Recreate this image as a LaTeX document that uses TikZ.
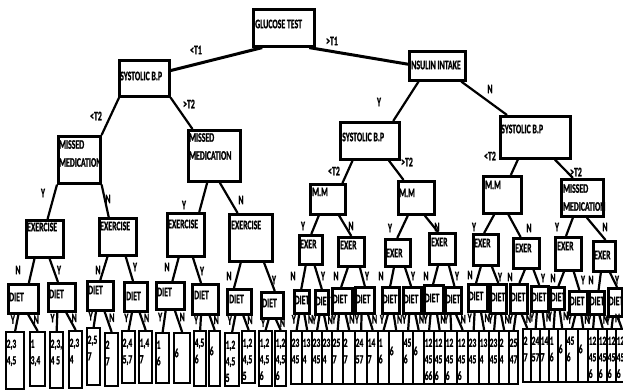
\documentclass[tikz,border=0pt]{standalone}
\usepackage{fontspec}
\setmainfont{Carlito}[FakeStretch=0.6, BoldFeatures={FakeBold=1}]
\usetikzlibrary{calc}
\tikzset{
  box/.style={draw, line width=2.6pt, rectangle, inner sep=0pt, anchor=north west, fill=white},
  leafbox/.style={draw, line width=2.3pt, rectangle, inner sep=0pt, anchor=north west},
  txt/.style={inner sep=0pt, font=\fontsize{13}{16}\selectfont\bfseries, anchor=west},
  mtxt/.style={inner sep=0pt, font=\fontsize{13}{18}\selectfont\bfseries, anchor=north west, align=left},
  ltxt/.style={inner sep=0pt, font=\fontsize{12.5}{16.5}\selectfont\bfseries, anchor=north west, align=left},
  lab/.style={inner sep=0pt, font=\fontsize{13}{15}\selectfont\bfseries},
  edge/.style={line width=2.2pt},
  topedge/.style={line width=3pt},
}
% box with one-line text: id, x1,y1,x2,y2, tx,ty, text
\newcommand\bx[8]{\node[box, minimum width={(#4-#2)*1pt}, minimum height={(#5-#3)*1pt}] (#1) at (#2,#3) {};
  \node[txt] (#1t) at (#6,#7) {#8};}
% box with two-line text (top-left of text given)
\newcommand\bxx[8]{\node[box, minimum width={(#4-#2)*1pt}, minimum height={(#5-#3)*1pt}] (#1) at (#2,#3) {};
  \node[mtxt] (#1t) at (#6,#7) {#8};}
% leaf: id, x1,y1,x2,y2, text
\newcommand\lv[6]{\node[leafbox, minimum width={(#4-#2)*1pt}, minimum height={(#5-#3)*1pt}] (#1) at (#2,#3) {};
  \node[ltxt] (#1t) at ({#2+1.5},{#3+8.5}) {#6};}
% edge between nodes: parent, fraction on bottom, child, fraction on top
\newcommand\ed[4]{\draw[edge] ($(#1.south west)!#2!(#1.south east)$) -- ($(#3.north west)!#4!(#3.north east)$);}
% diet to two leaves with Y / N
\newcommand\lfe[3]{%
  \draw[edge] ($(#1.south west)!0.35!(#1.south east)$) -- (#2.north) node[lab, pos=0.3, left=1.5pt] (#1y) {Y};
  \draw[edge] ($(#1.south west)!0.65!(#1.south east)$) -- (#3.north) node[lab, pos=0.3, right=1.5pt] (#1n) {N};}
\newcommand\lfeb[3]{%
  \draw[edge] ($(#1.south west)!0.35!(#1.south east)$) -- (#2.north) node[lab, pos=0.3, left=1.5pt] (#1y) {Y};
  \draw[edge] ($(#1.south west)!0.65!(#1.south east)$) -- (#3.north);}
\newcommand\lb[4]{\node[lab] (#1) at (#2,#3) {#4};}
\begin{document}
\begin{tikzpicture}[x=1pt, y=-1pt]
\fill[white] (0,0) rectangle (623,389);
\useasboundingbox (0,0) rectangle (623,389);

% ---------- upper levels ----------
\bx{GT}{252}{8}{313}{45}{255}{24}{GLUCOSE TEST}
\bx{S1}{118}{59}{168}{95}{120}{76}{SYSTOLIC B.P}
\bx{INS}{408}{50}{464}{79}{409}{65}{INSULIN INTAKE}
\bxx{M1}{57}{135}{99}{182}{59}{140}{MISSED\\MEDICATION}
\bxx{M2}{187}{129}{239}{180}{189}{133}{MISSED\\MEDICATION}
\bx{S2}{339}{121}{398}{158}{342}{137}{SYSTOLIC B.P}
\bx{S3}{499}{115}{569}{157}{501}{129}{SYSTOLIC B.P}
\bx{MMa}{309}{183}{344}{213}{312}{192}{M.M}
\bx{MMb}{397}{180}{433}{213}{399}{193}{M.M}
\bx{MMc}{482}{175}{520}{212}{485}{185}{M.M}
\bxx{MMd}{560}{178}{602}{215}{563}{184}{MISSED\\MEDICATION}

% ---------- exercise level ----------
\bx{EX1}{25}{219}{62}{256}{27}{227}{EXERCISE}
\bx{EX2}{98}{217}{135}{254}{100}{226}{EXERCISE}
\bx{EX3}{166}{212}{203}{255}{168}{224}{EXERCISE}
\bx{EX4}{228}{213}{271}{260}{231}{225}{EXERCISE}
\bx{EXa}{298}{234}{321}{263}{300}{244}{EXER}
\bx{EXb}{337}{236}{363}{265}{340}{245}{EXER}
\bx{EXc}{384}{238}{409}{265}{386}{253}{EXER}
\bx{EXd}{428}{232}{454}{263}{431}{242}{EXER}
\bx{EXe}{472}{233}{497}{264}{474}{243}{EXER}
\bx{EXf}{512}{237}{538}{267}{515}{248}{EXER}
\bx{EXg}{554}{236}{580}{269}{557}{246}{EXER}
\bx{EXh}{592}{240}{614}{270}{594}{255}{EXER}

% ---------- diet level ----------
\bx{D1}{7}{283}{37}{312}{9}{297}{DIET}
\bx{D2}{47}{282}{74}{310}{49}{294}{DIET}
\bx{D3}{86}{280}{112}{309}{88}{290}{DIET}
\bx{D4}{123}{281}{146}{310}{126}{296}{DIET}
\bx{D5}{155}{281}{183}{308}{157}{292}{DIET}
\bx{D6}{191}{283}{217}{313}{194}{295}{DIET}
\bx{D7}{226}{288}{250}{313}{229}{299}{DIET}
\bx{D8}{260}{291}{282}{317}{262}{303}{DIET}
\bx{R1}{293}{289}{308}{312}{294.5}{300}{DIET}
\bx{R2}{314}{289}{327}{313}{315.5}{301}{DIET}
\bx{R3}{331}{287}{351}{312}{332.5}{299}{DIET}
\bx{R4}{354}{286}{373}{312}{355.5}{299}{DIET}
\bx{R5}{381}{286}{398}{312}{382.5}{299}{DIET}
\bx{R6}{402}{286}{420}{312}{403.5}{299}{DIET}
\bx{R7}{423}{284}{442}{312}{424.5}{298}{DIET}
\bx{R8}{444}{286}{460}{312}{445.5}{299}{DIET}
\bx{R9}{467}{283}{486}{310}{468.5}{296}{DIET}
\bx{R10}{489}{283}{505}{312}{490.5}{297}{DIET}
\bx{R11}{509}{283}{526}{312}{510.5}{297}{DIET}
\bx{R12}{530}{285}{547}{310}{531.5}{297}{DIET}
\bx{R13}{549}{286}{563}{308}{550.5}{297}{DIET}
\bx{R14}{568}{290}{586}{313}{569.5}{301}{DIET}
\bx{R15}{588}{290}{603}{313}{589.5}{301}{DIET}
\bx{R16}{607}{287}{621}{315}{608.5}{301}{DIET}

% ---------- leaves (left) ----------
\lv{L1}{5}{331}{23}{388}{2,3\\4,5}
\lv{L2}{29}{331}{44}{385}{1\\3,4}
\lv{L3}{49}{331}{62}{387}{2,3,\\4 5}
\lv{L4}{68}{330}{81}{387}{2,3\\4}
\lv{L5}{86}{327}{99}{384}{2,5\\7}
\lv{L6}{104}{332}{117}{385}{2\\7}
\lv{L7}{121}{330}{134}{382}{2,4\\5,7}
\lv{L8}{138}{330}{151}{382}{1,4\\7}
\lv{L9}{155}{332}{168}{382}{1\\6}
\lv{L10}{173}{332}{189}{382}{\\6}
\lv{L11}{193}{330}{205}{385}{4,5\\6}
\lv{L12}{208}{330}{219}{385}{\\6}
\lv{L13}{224}{332}{238}{385}{1,2\\4,5\\5}
\lv{L14}{241}{330}{254}{382}{1,2\\4,5\\5}
\lv{L15}{258}{330}{271}{385}{1,2\\4,5\\6}
\lv{L16}{274}{330}{285}{385}{1,2\\4,5\\6}

% ---------- leaves (right bands) ----------
\lv{Q1}{290}{330}{301}{383}{23\\45}
\lv{Q2}{301}{330}{311}{383}{13\\4}
\lv{Q3}{311}{330}{321}{383}{23\\45}
\lv{Q4}{321}{330}{331}{383}{23\\4}
\lv{Q5}{331}{330}{342}{383}{25\\7}
\lv{Q6}{342}{330}{354}{383}{2\\7}
\lv{Q7}{354}{330}{366}{383}{24\\57}
\lv{Q8}{366}{330}{377}{383}{14\\7}
\lv{Q9}{377}{330}{388}{383}{1\\6}
\lv{Q10}{388}{330}{402}{383}{\\6}
\lv{Q11}{402}{330}{412}{383}{45\\6}
\lv{Q12}{412}{330}{423}{383}{\\6}
\lv{Q13}{423}{330}{433}{383}{12\\45\\66}
\lv{Q14}{433}{330}{444}{383}{12\\45\\6}
\lv{Q15}{444}{330}{456}{383}{12\\45\\6}
\lv{Q16}{456}{330}{467}{383}{12\\45\\6}
\lv{Q17}{467}{330}{478}{383}{23\\45}
\lv{Q18}{478}{330}{488}{383}{13\\4}
\lv{Q19}{488}{330}{498}{383}{23\\45}
\lv{Q20}{498}{330}{508}{383}{2\\4}
\lv{Q21}{508}{330}{517}{383}{25\\47}
\lv{Q22}{522}{328}{530}{381}{2\\7}
\lv{Q23}{530}{328}{539}{381}{24\\57}
\lv{Q24}{539}{328}{548}{381}{14\\7}
\lv{Q25}{548}{328}{557}{381}{1\\6}
\lv{Q26}{557}{328}{565}{381}{\\6}
\lv{Q27}{565}{328}{577}{381}{45\\6}
\lv{Q28}{577}{328}{587}{381}{\\6}
\lv{Q29}{587}{328}{597}{381}{12\\45\\6}
\lv{Q30}{597}{328}{606}{381}{12\\45\\6}
\lv{Q31}{606}{328}{615}{381}{12\\45\\6}
\lv{Q32}{615}{328}{626}{381}{12\\45\\6}

% ---------- connectors ----------
\draw[topedge] ($(GT.south west)!0.16!(GT.south east)$) -- ($(S1.north east)!0.3!(S1.south east)$);
\draw[topedge] ($(GT.south west)!0.9!(GT.south east)$) -- ($(INS.north west)!0.45!(INS.south west)$);
\ed{S1}{0.02}{M1}{1}
\ed{S1}{1}{M2}{0.1}
\ed{INS}{0.18}{S2}{0.88}
\ed{INS}{0.91}{S3}{0.11}
\ed{S2}{0.22}{MMa}{0.89}
\ed{S2}{0.81}{MMb}{0.17}
\ed{S3}{0.26}{MMc}{0.71}
\ed{S3}{0.77}{MMd}{0.29}
\ed{M1}{0}{EX1}{0.57}
\ed{M1}{1}{EX2}{0.27}
\ed{M2}{0.37}{EX3}{0.84}
\ed{M2}{0.6}{EX4}{0.21}
\ed{MMa}{0.26}{EXa}{0.52}
\ed{MMa}{0.8}{EXb}{0.5}
\ed{MMb}{0.28}{EXc}{0.48}
\ed{MMb}{0.72}{EXd}{0.35}
\ed{MMc}{0.3}{EXe}{0.44}
\ed{MMc}{0.65}{EXf}{0.3}
\ed{MMd}{0.29}{EXg}{0.42}
\ed{MMd}{0.6}{EXh}{0.55}
\ed{EX1}{0.24}{D1}{0.67}
\ed{EX1}{0.62}{D2}{0.37}
\ed{EX2}{0.24}{D3}{0.5}
\ed{EX2}{0.7}{D4}{0.39}
\ed{EX3}{0.32}{D5}{0.57}
\ed{EX3}{0.68}{D6}{0.35}
\ed{EX4}{0.28}{D7}{0.3}
\ed{EX4}{0.79}{D8}{0.6}
\ed{EXa}{0.3}{R1}{0.47}
\ed{EXa}{0.65}{R2}{0.5}
\ed{EXb}{0.38}{R3}{0.45}
\ed{EXb}{0.8}{R4}{0.5}
\ed{EXc}{0.36}{R5}{0.47}
\ed{EXc}{0.76}{R6}{0.44}
\ed{EXd}{0.35}{R7}{0.47}
\ed{EXd}{0.73}{R8}{0.56}
\ed{EXe}{0.32}{R9}{0.42}
\ed{EXe}{0.72}{R10}{0.5}
\ed{EXf}{0.45}{R11}{0.53}
\ed{EXf}{0.75}{R12}{0.47}
\ed{EXg}{0.35}{R13}{0.57}
\ed{EXg}{0.69}{R14}{0.55}
\ed{EXh}{0.36}{R15}{0.6}
\ed{EXh}{0.73}{R16}{0.6}

\lfe{D1}{L1}{L2}
\lfe{D2}{L3}{L4}
\lfe{D3}{L5}{L6}
\lfe{D4}{L7}{L8}
\lfe{D5}{L9}{L10}
\lfe{D6}{L11}{L12}
\lfe{D7}{L13}{L14}
\lfe{D8}{L15}{L16}
\lfe{R1}{Q1}{Q2}
\lfe{R2}{Q3}{Q4}
\lfe{R3}{Q5}{Q6}
\lfe{R4}{Q7}{Q8}
\lfe{R5}{Q9}{Q10}
\lfe{R6}{Q11}{Q12}
\lfe{R7}{Q13}{Q14}
\lfe{R8}{Q15}{Q16}
\lfe{R9}{Q17}{Q18}
\lfe{R10}{Q19}{Q20}
\lfe{R11}{Q21}{Q22}
\lfe{R12}{Q23}{Q24}
\lfe{R13}{Q25}{Q26}
\lfe{R14}{Q27}{Q28}
\lfe{R15}{Q29}{Q30}
\lfeb{R16}{Q31}{Q32}

% ---------- edge labels ----------
\lb{t1}{196}{50}{<T1}
\lb{t2}{332}{41}{>T1}
\lb{t3}{96}{116}{<T2}
\lb{t4}{189}{104}{>T2}
\lb{t5}{379}{102}{Y}
\lb{t6}{490}{89}{N}
\lb{t7}{334}{171}{<T2}
\lb{t8}{407}{162}{>T2}
\lb{t9}{490}{156}{<T2}
\lb{t10}{576}{172}{>T2}
\lb{m1}{43}{193}{Y}
\lb{m2}{108}{199}{N}
\lb{m3}{184}{205}{Y}
\lb{m4}{241}{200}{N}
\lb{m5}{303}{226}{Y}
\lb{m6}{351}{226}{N}
\lb{m7}{390}{228}{Y}
\lb{m8}{437}{227}{N}
\lb{m9}{474}{227}{Y}
\lb{m10}{529}{228}{N}
\lb{m11}{557}{227}{Y}
\lb{m12}{605}{227}{N}
\lb{e1}{18}{270}{N}
\lb{e2}{59}{270}{Y}
\lb{e3}{98}{270}{N}
\lb{e4}{135}{267}{Y}
\lb{e5}{167}{267}{N}
\lb{e6}{202}{271}{Y}
\lb{e7}{229}{276}{N}
\lb{e8}{274}{280}{Y}
\lb{e9}{293}{276}{N}
\lb{e10}{323}{276}{Y}
\lb{e11}{336}{276}{N}
\lb{e12}{367}{276}{Y}
\lb{e13}{381}{276}{N}
\lb{e14}{413}{276}{Y}
\lb{e15}{426}{276}{N}
\lb{e16}{457}{276}{Y}
\lb{e17}{470}{275}{N}
\lb{e18}{500}{277}{Y}
\lb{e19}{510}{277}{N}
\lb{e20}{543}{278}{Y}
\lb{e21}{553}{278}{N}
\lb{e22}{583}{280}{Y}
\lb{e23}{591}{280}{N}
\lb{e24}{617}{280}{Y}
\lb{R16n}{617.5}{318}{N}
\end{tikzpicture}
\end{document}
